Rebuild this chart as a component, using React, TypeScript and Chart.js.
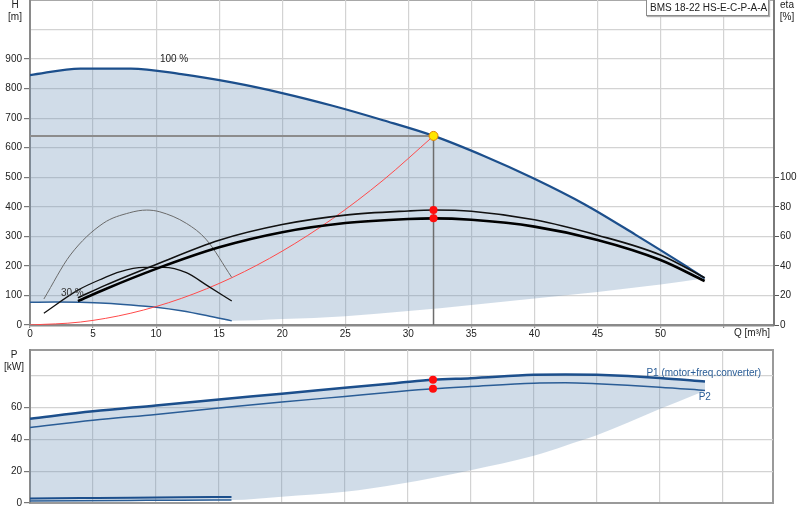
import React, { useEffect, useRef } from "react";
import { Chart, registerables } from "chart.js";

Chart.register(...registerables);

const FONT_FAMILY = '"Liberation Sans", Arial, Helvetica, sans-serif';

// ---------- axes ----------
const qTicks = [0, 5, 10, 15, 20, 25, 30, 35, 40, 45, 50, 55];
const qTickLabels = ["0", "5", "10", "15", "20", "25", "30", "35", "40", "45", "50", ""];
const hTicks = [0, 100, 200, 300, 400, 500, 600, 700, 800, 900, 1000, 1100];
const hTickLabels = ["0", "100", "200", "300", "400", "500", "600", "700", "800", "900", "", ""];
const etaTicks = [0, 20, 40, 60, 80, 100];
const etaTickLabels = ["0", "20", "40", "60", "80", "100"];
const pTicks = [0, 20, 40, 60, 80];
const pTickLabels = ["0", "20", "40", "60", ""];

// ---------- Q-H diagram ----------
const q100 = [0, 4, 8, 12, 16, 20, 24, 28, 32, 36, 40, 44, 48, 52, 53.5];
const h100 = [846, 868, 868, 849, 821, 785, 742, 693, 640, 572, 495, 408, 306, 200, 158];

const q30 = [0, 2, 4, 6, 8, 10, 12, 14, 16];
const h30 = [77, 78, 77, 74, 68, 60, 48, 32, 14];

const qMinHead = [16, 20, 25, 30, 35, 40, 45, 50, 53.5];
const hMin = [14, 20, 30, 47, 68, 90, 112, 137, 158];

const qSystem = [0, 4, 8, 12, 16, 20, 24, 28, 32];
const hSystem = [0, 10, 40, 90, 160, 250, 360, 490, 640];

const qEta = [3.8, 6, 10, 15, 20, 25, 30, 32, 35, 40, 45, 50, 53.5];
const etaPump = [18.4, 27, 41, 57.4, 68, 74.4, 77.2, 77.8, 77, 71.2, 60.8, 47.4, 32];
const etaTotal = [16.2, 24.4, 38, 52.6, 62.8, 69, 71.8, 72.2, 71.2, 66.6, 57.6, 44, 29.8];

const qEtaPump30 = [1.1, 3.2, 5.8, 7.9, 9.25, 10.3, 12.4, 14, 16];
const etaPump30 = [17.6, 47.4, 68.8, 76, 77.8, 76.6, 68.8, 57.6, 32.2];
const qEtaTotal30 = [1.1, 3.8, 5.8, 7.1, 9, 10.6, 12.4, 14, 16];
const etaTotal30 = [8, 23.6, 31.6, 36, 39, 39, 35.4, 27, 16.2];

const dutyQ = 32;
const dutyH = 640;
const dutyEtaPump = 77.8;
const dutyEtaTotal = 72.2;

// ---------- power diagram ----------
const qPower = [0, 5, 10, 15, 20, 25, 29.3, 32, 35, 40, 42.5, 45, 50, 53.6];
const powerP1 = [52.9, 57.5, 61.2, 65, 68.5, 72.3, 75.4, 77.3, 78.3, 80.4, 80.7, 80.4, 78.5, 76.2];
const powerP2 = [47.3, 51.9, 55.6, 59.6, 63.3, 66.9, 70, 71.7, 73.1, 75.2, 75.4, 74.8, 72.7, 70.6];

const qPower30 = [0, 4, 8, 12, 16];
const powerP1At30 = [2.9, 3.1, 3.3, 3.6, 3.8];
const powerP2At30 = [1.2, 1.4, 1.6, 1.8, 1.9];

const qPowerMin = [16, 20, 25, 29.3, 35, 40, 42.5, 45, 50, 53, 53.6];
const powerMin = [1.9, 4, 7, 11.9, 20.6, 29.6, 36, 42.5, 59, 68.5, 70.6];

const dutyP1 = 77.3;
const dutyP2 = 71.7;

// ---------- helpers ----------
const pts = (xs: number[], ys: number[]) => xs.map((x, i) => ({ x, y: ys[i] }));

const GRID = "#d3d3d3";
const FILL = "rgba(98,138,178,0.3)";
const DARK_BLUE = "#1c4f8c";
const BLUE = "#2a5d96";
const FONT_SIZE = 10;
const tickFont = { family: FONT_FAMILY, size: FONT_SIZE, lineHeight: 1 };

const curve = (data: any[], color: string, width: number, axis = "y", extra: any = {}) => ({
  data,
  borderColor: color,
  borderWidth: width,
  pointRadius: 0,
  pointHoverRadius: 0,
  yAxisID: axis,
  fill: false,
  cubicInterpolationMode: "monotone",
  ...extra,
});

const straight = (data: any[], color: string, width: number, axis = "y") => ({
  data,
  borderColor: color,
  borderWidth: width,
  pointRadius: 0,
  pointHoverRadius: 0,
  yAxisID: axis,
  fill: false,
  tension: 0,
});

const noPad = (s: any) => {
  s.paddingTop = 0;
  s.paddingBottom = 0;
  s.paddingLeft = 0;
  s.paddingRight = 0;
};

const makeFrame = (color: string, width: number) => ({
  id: "frame",
  beforeDraw(chart: any) {
    const { ctx, chartArea: a } = chart;
    ctx.save();
    ctx.strokeStyle = color;
    ctx.lineWidth = width;
    ctx.strokeRect(a.left, a.top, a.right - a.left, a.bottom - a.top);
    ctx.restore();
  },
});

type TextItem = { text: string; x: number; y: number; color: string; axis?: string };
const makeText = (items: TextItem[]) => ({
  id: "dataText",
  afterDatasetsDraw(chart: any) {
    const ctx = chart.ctx;
    ctx.save();
    ctx.font = `${FONT_SIZE}px ${FONT_FAMILY}`;
    ctx.textBaseline = "middle";
    ctx.textAlign = "left";
    items.forEach((it) => {
      const px = chart.scales.x.getPixelForValue(it.x);
      const py = chart.scales[it.axis || "y"].getPixelForValue(it.y);
      ctx.fillStyle = it.color;
      ctx.fillText(it.text, px, py);
    });
    ctx.restore();
  },
});

function topConfig(): any {
  const boundary = pts(q30, h30).concat(pts(qMinHead, hMin).slice(1));
  return {
    type: "line",
    data: {
      datasets: [
        {
          data: [{ x: dutyQ, y: dutyH }],
          showLine: false,
          pointRadius: 4.5,
          pointBackgroundColor: "#ffe600",
          pointBorderColor: "#e08000",
          pointBorderWidth: 1,
          yAxisID: "y",
        },
        {
          data: [
            { x: dutyQ, y: dutyEtaPump },
            { x: dutyQ, y: dutyEtaTotal },
          ],
          showLine: false,
          pointRadius: 4,
          pointBackgroundColor: "#ff0d0d",
          pointBorderWidth: 0,
          yAxisID: "y1",
        },
        curve(pts(qEta, etaPump), "#111", 1.6, "y1"),
        curve(pts(qEta, etaTotal), "#000", 2.6, "y1"),
        curve(pts(qEtaPump30, etaPump30), "#6a6a6a", 1, "y1"),
        curve(pts(qEtaTotal30, etaTotal30), "#111", 1.3, "y1"),
        curve(pts(qSystem, hSystem), "#ff4a4a", 1),
        straight(
          [
            { x: dutyQ, y: dutyH },
            { x: dutyQ, y: 0 },
          ],
          "#6d6d6d",
          1.5
        ),
        straight(
          [
            { x: 0, y: dutyH },
            { x: dutyQ, y: dutyH },
          ],
          "#8c8c8c",
          2
        ),
        curve(pts(q100, h100), DARK_BLUE, 2.2, "y", { fill: 11, backgroundColor: FILL }),
        curve(pts(q30, h30), BLUE, 1.5),
        curve(boundary, "rgba(0,0,0,0)", 0),
      ],
    },
    options: {
      animation: false,
      responsive: false,
      maintainAspectRatio: false,
      events: [],
      layout: { padding: { top: 0, left: 0, right: 0, bottom: 0 }, autoPadding: false },
      plugins: {
        legend: { display: false },
        tooltip: { enabled: false },
        filler: { drawTime: "beforeDatasetsDraw" },
      },
      scales: {
        x: {
          type: "linear",
          min: 0,
          max: 59,
          afterBuildTicks: (s: any) => {
            s.ticks = qTicks.map((v) => ({ value: v }));
          },
          afterFit: (s: any) => {
            s.height = 20;
            noPad(s);
          },
          grid: { color: GRID, lineWidth: 1.2, tickLength: 3, tickColor: "#888" },
          border: { color: "#8a8a8a", width: 2.5 },
          ticks: {
            padding: 1,
            font: tickFont,
            color: "#222",
            maxRotation: 0,
            autoSkip: false,
            callback: (_v: any, i: number) => qTickLabels[i],
          },
        },
        y: {
          type: "linear",
          position: "left",
          min: 0,
          max: 1100,
          afterBuildTicks: (s: any) => {
            s.ticks = hTicks.map((v) => ({ value: v }));
          },
          afterFit: (s: any) => {
            s.width = 30;
            noPad(s);
          },
          grid: {
            color: GRID,
            lineWidth: 1.2,
            tickLength: 6,
            tickColor: (c: any) => (hTickLabels[c.index] ? "#777" : "rgba(0,0,0,0)"),
          },
          border: { color: "#8a8a8a", width: 2 },
          ticks: {
            padding: 2,
            font: tickFont,
            color: "#222",
            autoSkip: false,
            callback: (_v: any, i: number) => hTickLabels[i],
          },
        },
        y1: {
          type: "linear",
          position: "right",
          min: 0,
          max: 220,
          afterBuildTicks: (s: any) => {
            s.ticks = etaTicks.map((v) => ({ value: v }));
          },
          afterFit: (s: any) => {
            s.width = 26;
            noPad(s);
          },
          grid: { drawOnChartArea: false, tickLength: 5, tickColor: "#555" },
          border: { color: "#7a7a7a", width: 2 },
          ticks: {
            padding: 1,
            font: tickFont,
            color: "#222",
            autoSkip: false,
            callback: (_v: any, i: number) => etaTickLabels[i],
          },
        },
      },
    },
    plugins: [
      makeFrame("#9a9a9a", 2),
      makeText([
        { text: "100 %", x: 10.3, y: 898, color: "#222" },
        { text: "30 %", x: 2.45, y: 107, color: "#333" },
      ]),
    ],
  };
}

function bottomConfig(): any {
  const boundary = pts(qPower30, powerP2At30).concat(pts(qPowerMin, powerMin).slice(1));
  return {
    type: "line",
    data: {
      datasets: [
        {
          data: [
            { x: dutyQ, y: dutyP1 },
            { x: dutyQ, y: dutyP2 },
          ],
          showLine: false,
          pointRadius: 4,
          pointBackgroundColor: "#ff0d0d",
          pointBorderWidth: 0,
          yAxisID: "y",
        },
        curve(pts(qPower, powerP1), DARK_BLUE, 2.5, "y", { fill: 5, backgroundColor: FILL }),
        curve(pts(qPower, powerP2), BLUE, 1.5),
        curve(pts(qPower30, powerP1At30), DARK_BLUE, 2),
        curve(pts(qPower30, powerP2At30), BLUE, 1.5),
        curve(boundary, "rgba(0,0,0,0)", 0),
      ],
    },
    options: {
      animation: false,
      responsive: false,
      maintainAspectRatio: false,
      events: [],
      layout: { padding: { top: 5, left: 0, right: 27, bottom: 0 }, autoPadding: false },
      plugins: {
        legend: { display: false },
        tooltip: { enabled: false },
        filler: { drawTime: "beforeDatasetsDraw" },
      },
      scales: {
        x: {
          type: "linear",
          min: 0,
          max: 59,
          afterBuildTicks: (s: any) => {
            s.ticks = qTicks.map((v) => ({ value: v }));
          },
          afterFit: (s: any) => {
            s.height = 17;
            noPad(s);
          },
          grid: { color: GRID, lineWidth: 1.2, drawTicks: false },
          border: { color: "#9a9a9a", width: 2 },
          ticks: { display: false },
        },
        y: {
          type: "linear",
          position: "left",
          min: 0,
          max: 96,
          afterBuildTicks: (s: any) => {
            s.ticks = pTicks.map((v) => ({ value: v }));
          },
          afterFit: (s: any) => {
            s.width = 30;
            noPad(s);
          },
          grid: {
            color: GRID,
            lineWidth: 1.2,
            tickLength: 6,
            tickColor: (c: any) => (pTickLabels[c.index] ? "#777" : "rgba(0,0,0,0)"),
          },
          border: { color: "#8a8a8a", width: 2 },
          ticks: {
            padding: 2,
            font: tickFont,
            color: "#222",
            autoSkip: false,
            callback: (_v: any, i: number) => pTickLabels[i],
          },
        },
      },
    },
    plugins: [
      makeFrame("#9a9a9a", 2),
      makeText([
        { text: "P1 (motor+freq.converter)", x: 48.95, y: 81.4, color: BLUE },
        { text: "P2", x: 53.1, y: 66.4, color: BLUE },
      ]),
    ],
  };
}

const label: React.CSSProperties = {
  position: "absolute",
  fontFamily: FONT_FAMILY,
  fontSize: FONT_SIZE,
  lineHeight: "12px",
  color: "#222",
  whiteSpace: "nowrap",
};

export default function App() {
  const topRef = useRef<HTMLCanvasElement>(null);
  const botRef = useRef<HTMLCanvasElement>(null);

  useEffect(() => {
    const top = new Chart(topRef.current as HTMLCanvasElement, topConfig());
    const bot = new Chart(botRef.current as HTMLCanvasElement, bottomConfig());
    return () => {
      top.destroy();
      bot.destroy();
    };
  }, []);

  return (
    <div
      style={{
        position: "absolute",
        left: 0,
        top: 0,
        width: 800,
        height: 520,
        background: "#fff",
        overflow: "hidden",
      }}
    >
      <canvas
        ref={topRef}
        width={800}
        height={345}
        style={{ position: "absolute", left: 0, top: 0, width: 800, height: 345 }}
      />
      <canvas
        ref={botRef}
        width={800}
        height={175}
        style={{ position: "absolute", left: 0, top: 345, width: 800, height: 175 }}
      />
      <div style={{ ...label, left: 0, top: -1, width: 30, textAlign: "center" }}>
        H<br />[m]
      </div>
      <div style={{ ...label, left: 774, top: -1, width: 26, textAlign: "center" }}>
        eta<br />[%]
      </div>
      <div style={{ ...label, left: 0, top: 349, width: 28, textAlign: "center" }}>
        P<br />[kW]
      </div>
      <div style={{ ...label, left: 690, top: 327, width: 80, textAlign: "right" }}>Q [m³/h]</div>
      <div
        style={{
          ...label,
          left: 646,
          top: -1,
          width: 123,
          height: 17,
          boxSizing: "border-box",
          border: "1px solid #8c8c8c",
          boxShadow: "1px 1px 1px #b0b0b0",
          background: "#fff",
          paddingLeft: 3,
          lineHeight: "16px",
        }}
      >
        BMS 18-22 HS-E-C-P-A-A
      </div>
    </div>
  );
}
